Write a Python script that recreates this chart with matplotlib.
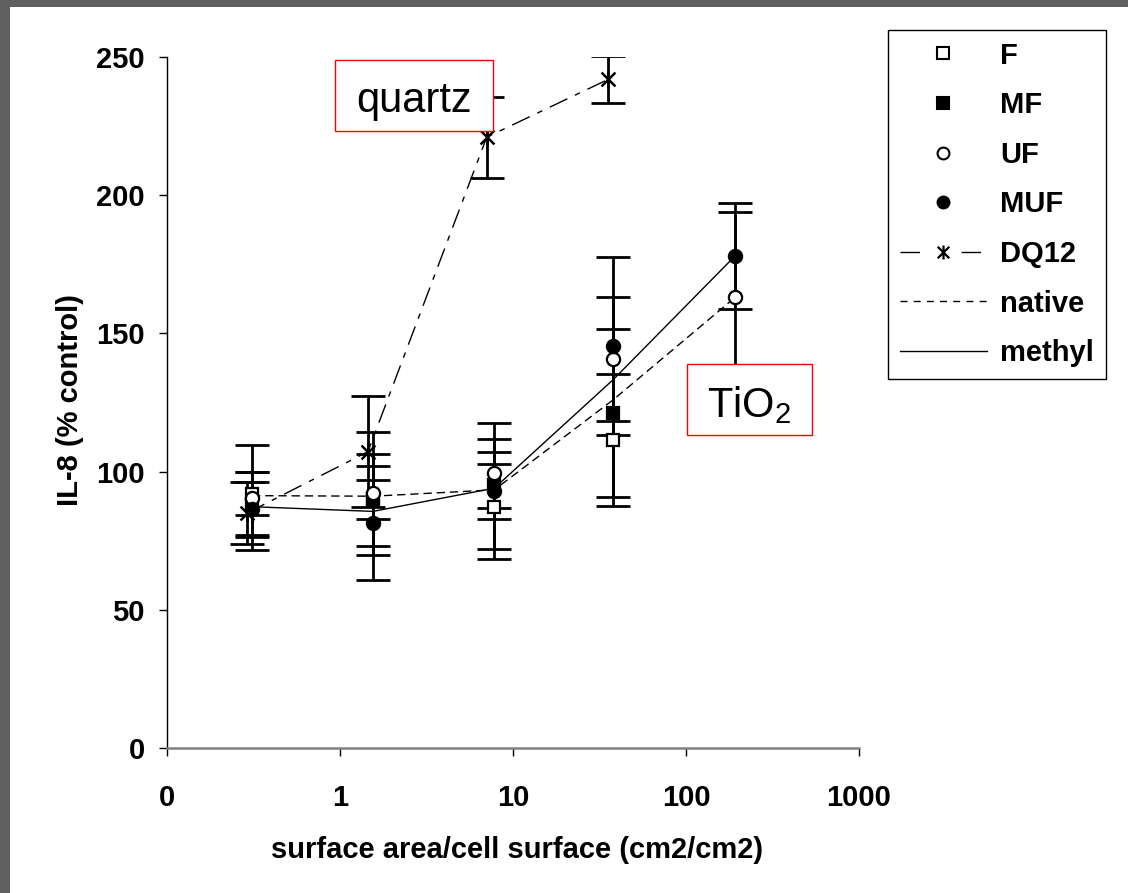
import matplotlib
matplotlib.use("Agg")
import matplotlib.pyplot as plt
from matplotlib.lines import Line2D
from matplotlib.patches import Rectangle
from matplotlib.path import Path
import numpy as np

plt.rcParams['font.family'] = ['Liberation Sans', 'DejaVu Sans']
plt.rcParams['mathtext.fontset'] = 'custom'
plt.rcParams['mathtext.rm'] = 'Liberation Sans'
plt.rcParams['mathtext.default'] = 'regular'

# surface area / cell surface (cm2/cm2)
x_tio2 = [0.31, 1.55, 7.8, 38, 192]
x_dq12 = [0.29, 1.45, 7.05, 35.5]

# IL-8 (% control) and error bars
F = [92, 90, 87.3, 111.4]
F_err = [7.7, 7, 15.4, 23.9]
MF = [88, 89.7, 95, 121.1]
MF_err = [11.7, 16.5, 12, 30.4]
UF = [90.6, 92.1, 99.4, 140.6, 163]
UF_err = [19, 22.3, 12.4, 22.4, 30.8]
MUF = [86.6, 81.5, 93, 145.4, 178]
MUF_err = [9.7, 20.6, 24.5, 32.3, 19.1]
DQ12 = [85, 107.2, 221, 241.9]
DQ12_err = [11.3, 20, 14.7, 8.5]

# trend lines (native = F/UF, methyl = MF/MUF)
native = [91.3, 91.1, 93.4, 126, 163]
methyl = [87.3, 85.6, 94, 133.3, 178]

xticks = [0.1, 1, 10, 100, 1000]
xticklabels = ['0', '1', '10', '100', '1000']
yticks = [0, 50, 100, 150, 200, 250]

W, H = 1128, 893
fig = plt.figure(figsize=(W / 100, H / 100), dpi=100, facecolor='#5f5f5f')
# white chart area (gray frame only on top and left)
fig.patches.append(Rectangle((10 / W, 0), 1, 1 - 7 / H, transform=fig.transFigure,
                             facecolor='white', edgecolor='none', zorder=-10))

ax = fig.add_axes([167 / W, 1 - 748 / H, 692 / W, 691 / H])
ax.set_facecolor('none')

# star marker: X plus vertical stroke
star = Path([(-1, -1), (1, 1), (-1, 1), (1, -1), (0, -1.2), (0, 1.2)],
            [Path.MOVETO, Path.LINETO, Path.MOVETO, Path.LINETO, Path.MOVETO, Path.LINETO])

ebkw = dict(fmt='none', ecolor='black', elinewidth=2, capsize=12, capthick=2, zorder=3)

ax.plot(x_tio2, native, color='black', lw=1, dashes=(6, 3.5), zorder=2)
ax.plot(x_tio2, methyl, color='black', lw=1, zorder=2)
ax.plot(x_dq12, DQ12, color='black', lw=1, dashes=(14, 6, 4, 6), zorder=2)

ax.errorbar(x_tio2[:4], F, yerr=F_err, **ebkw)
ax.errorbar(x_tio2[:4], MF, yerr=MF_err, **ebkw)
ax.errorbar(x_tio2, UF, yerr=UF_err, **ebkw)
ax.errorbar(x_tio2, MUF, yerr=MUF_err, **ebkw)
ax.errorbar(x_dq12, DQ12, yerr=DQ12_err, **ebkw)

ax.plot(x_tio2[:4], F, 's', ms=9, mfc='white', mec='black', mew=1.6, zorder=5)
ax.plot(x_tio2[:4], MF, 's', ms=9, mfc='black', mec='black', mew=1.6, zorder=5)
ax.plot(x_tio2, UF, 'o', ms=9.5, mfc='white', mec='black', mew=1.6, zorder=5)
ax.plot(x_tio2, MUF, 'o', ms=9.5, mfc='black', mec='black', mew=1.6, zorder=5)
ax.plot(x_dq12, DQ12, linestyle='none', marker=star, ms=12, mec='black', mew=1.8, zorder=5)

ax.set_xscale('log')
ax.set_xlim(0.1, 1000)
ax.set_ylim(0, 250)
ax.set_xticks(xticks)
ax.set_xticklabels(xticklabels)
ax.xaxis.set_minor_locator(matplotlib.ticker.NullLocator())
ax.set_yticks(yticks)
for s in ['top', 'right']:
    ax.spines[s].set_visible(False)
ax.spines['left'].set_color('black')
ax.spines['left'].set_linewidth(1)
ax.spines['bottom'].set_color('#808080')
ax.spines['bottom'].set_linewidth(1.8)
ax.tick_params(axis='x', direction='out', length=6, width=1, color='black', pad=20,
               labelsize=21)
ax.tick_params(axis='y', direction='out', length=6, width=1, color='black', pad=10,
               labelsize=21)
for lab in ax.get_xticklabels() + ax.get_yticklabels():
    lab.set_fontweight('bold')

fig.text(70 / W, 1 - 400 / H, 'IL-8 (% control)', rotation=90, ha='center', va='center',
         fontsize=21, fontweight='bold')
fig.text(517 / W, 1 - 850 / H, 'surface area/cell surface (cm2/cm2)', ha='center',
         va='center', fontsize=21, fontweight='bold')

# red annotation boxes
fig.patches.append(Rectangle((335 / W, 1 - 131 / H), 158 / W, 71 / H, transform=fig.transFigure,
                             facecolor='white', edgecolor='red', lw=1, zorder=6))
fig.text(414 / W, 1 - 112 / H, 'quartz', ha='center', va='baseline', fontsize=30, zorder=7)
fig.patches.append(Rectangle((687 / W, 1 - 435 / H), 125 / W, 71 / H, transform=fig.transFigure,
                             facecolor='white', edgecolor='red', lw=1, zorder=6))
fig.text(749 / W, 1 - 417 / H, 'TiO$_2$', ha='center', va='baseline', fontsize=30, zorder=7)

handles = [
    Line2D([], [], ls='none', marker='s', ms=8.5, mfc='white', mec='black', mew=1.5),
    Line2D([], [], ls='none', marker='s', ms=8.5, mfc='black', mec='black', mew=1.5),
    Line2D([], [], ls='none', marker='o', ms=8.5, mfc='white', mec='black', mew=1.5),
    Line2D([], [], ls='none', marker='o', ms=8.5, mfc='black', mec='black', mew=1.5),
    Line2D([], [], color='black', lw=1, dashes=(14, 30), marker=star, ms=10, mew=1.6),
    Line2D([], [], color='black', lw=1, dashes=(5, 4.5)),
    Line2D([], [], color='black', lw=1),
]
labels = ['F', 'MF', 'UF', 'MUF', 'DQ12', 'native', 'methyl']
leg = fig.legend(handles, labels, loc='upper left', bbox_to_anchor=(888 / W, 1 - 30 / H),
                 bbox_transform=fig.transFigure, frameon=True, fancybox=False,
                 edgecolor='black', framealpha=1, borderaxespad=0, borderpad=0.4,
                 handlelength=3.0, handletextpad=0.45, labelspacing=0.74,
                 prop={'size': 21, 'weight': 'bold'})
leg.get_frame().set_linewidth(1)

fig.savefig('out.png', dpi=100, facecolor=fig.get_facecolor())
